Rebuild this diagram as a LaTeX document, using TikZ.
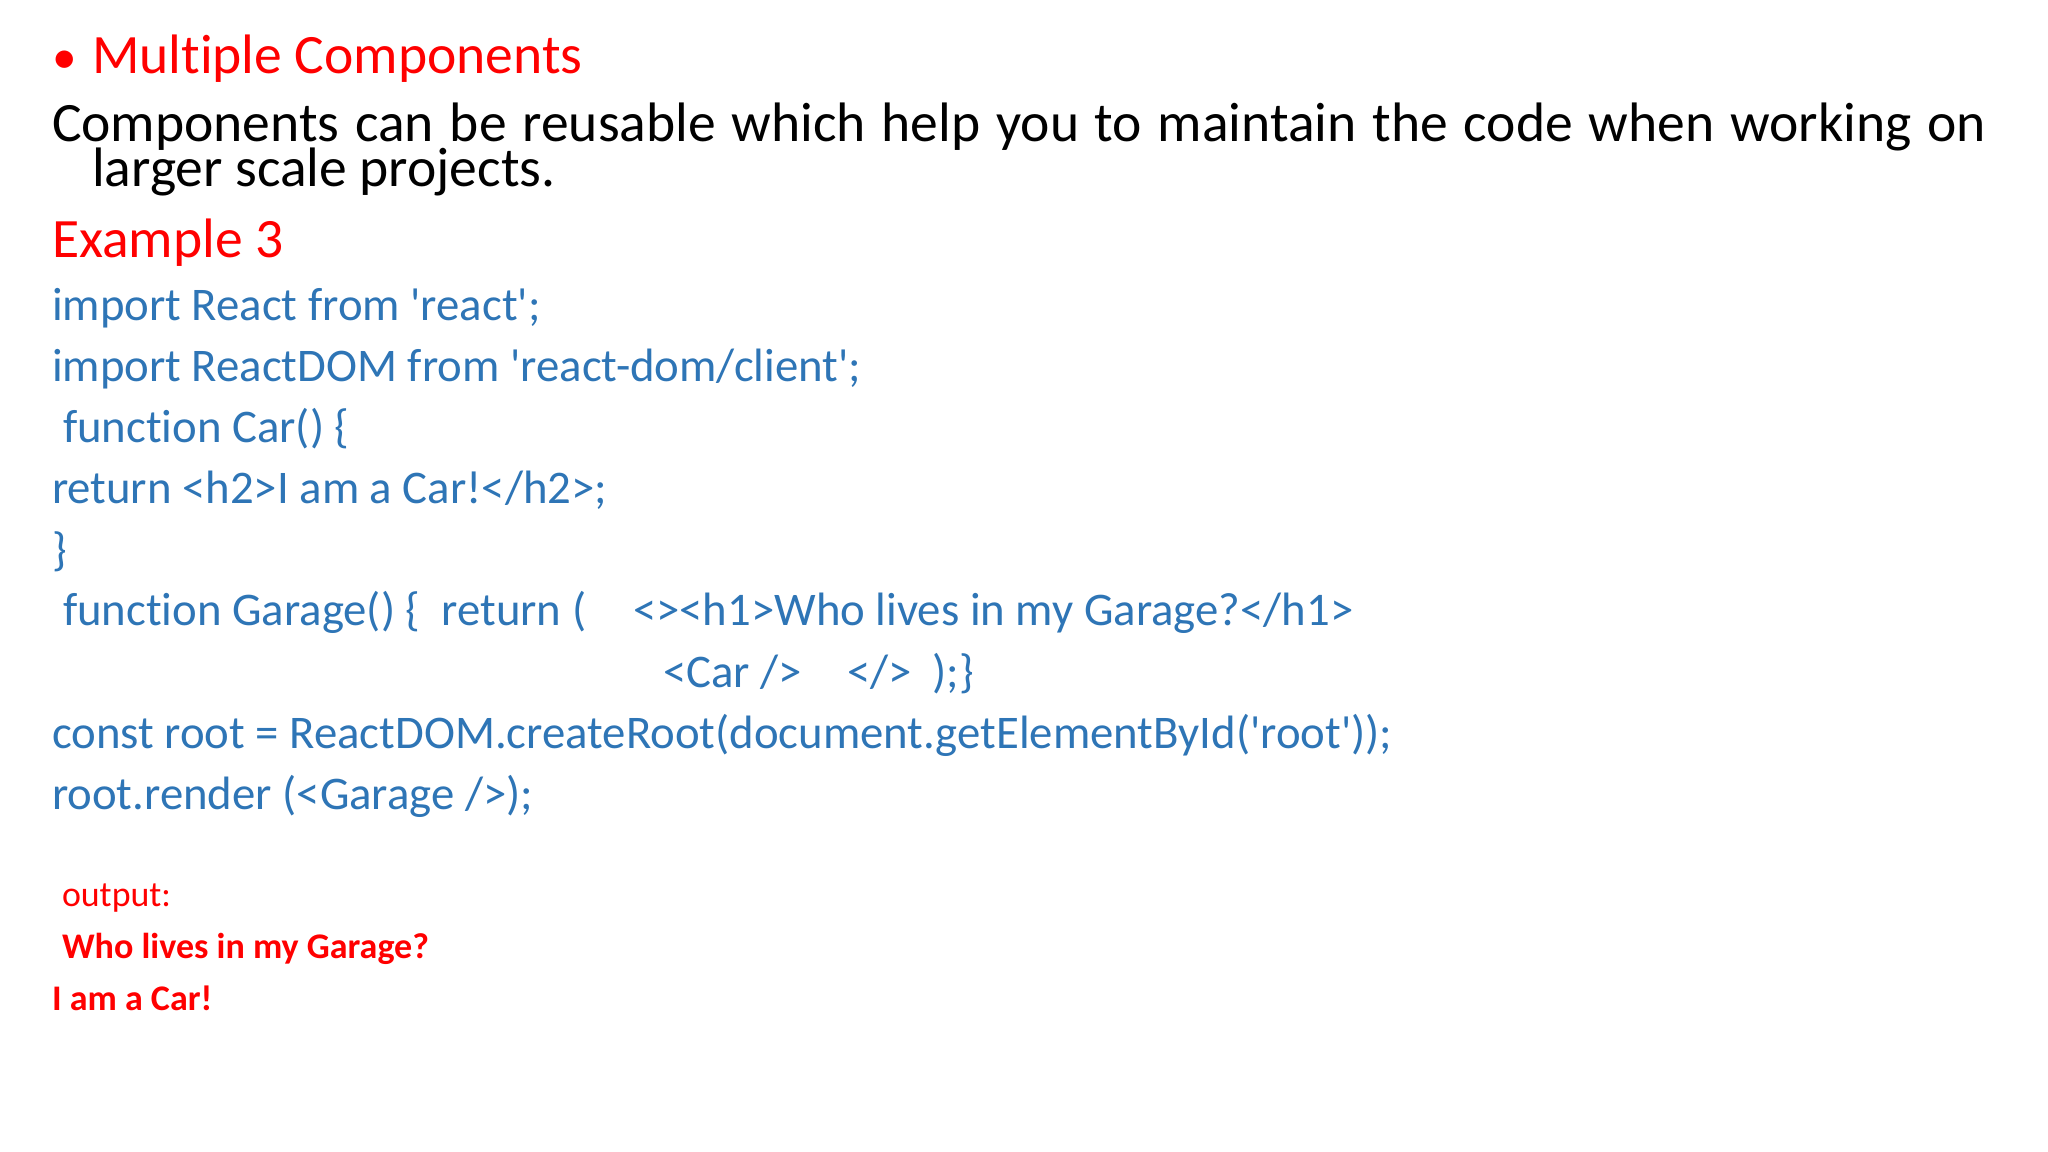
\documentclass[tikz,border=0pt]{standalone}
\usepackage{fontspec}
\setmainfont{Carlito}[Ligatures=NoCommon]
\definecolor{codeblue}{RGB}{46,117,182}
\definecolor{tred}{RGB}{255,0,0}
\newcommand{\sq}{\textquotesingle}
\begin{document}
\begin{tikzpicture}[x=0.01cm,y=-0.01cm,
  t/.style={anchor=base west,inner sep=0pt,outer sep=0pt},
  title/.style={t,text=tred,font=\fontsize{15.8}{19}\selectfont},
  body/.style={t,text=black,font=\fontsize{15.8}{19}\selectfont},
  code/.style={t,text=codeblue,font=\fontsize{13.3}{16}\selectfont},
  outp/.style={t,text=tred,font=\fontsize{10.2}{12}\selectfont},
  outb/.style={t,text=tred,font=\bfseries\fontsize{10.25}{12}\selectfont}]
\useasboundingbox[fill=white] (0,0) rectangle (2048,1152);
\node[title,font=\fontsize{14}{16}\selectfont] (bul) at (52,74) {•};
\node[title] (h) at (92,74) {Multiple Components};
\node[body] (b1) at (52,142) {\makebox[1934\dimexpr0.01cm\relax][s]{Components can be reusable which help you to maintain the code when working on}};
\node[body] (b2) at (92,187) {larger scale projects.};
\node[title] (ex) at (52,258) {Example 3};
\node[code] (c1) at (52,321) {import React from \sq react\sq;};
\node[code] (c2) at (52,382) {import ReactDOM from \sq react-dom/client\sq;};
\node[code] (c3) at (63,443) {function Car() \{};
\node[code] (c4) at (52,504) {return <h2>I am a Car!</h2>;};
\node[code] (c5) at (52,565) {\}};
\node[code] (c6) at (63,626) {function Garage() \{~~return (};
\node[code] (c6b) at (633,626) {<><h1>Who lives in my Garage?</h1>};
\node[code] (c7) at (663,687) {<Car />};
\node[code] (c7b) at (847,687) {</>~~);\}};
\node[code] (c8) at (52,748) {const root = ReactDOM.createRoot(document.getElementById(\sq root\sq));};
\node[code] (c9) at (52,809) {root.render (<Garage />);};
\node[outp] (o) at (62,906) {output:};
\node[outb] (o1) at (62,958) {Who lives in my Garage?};
\node[outb] (o2) at (52,1010) {I am a Car!};
\end{tikzpicture}
\end{document}
